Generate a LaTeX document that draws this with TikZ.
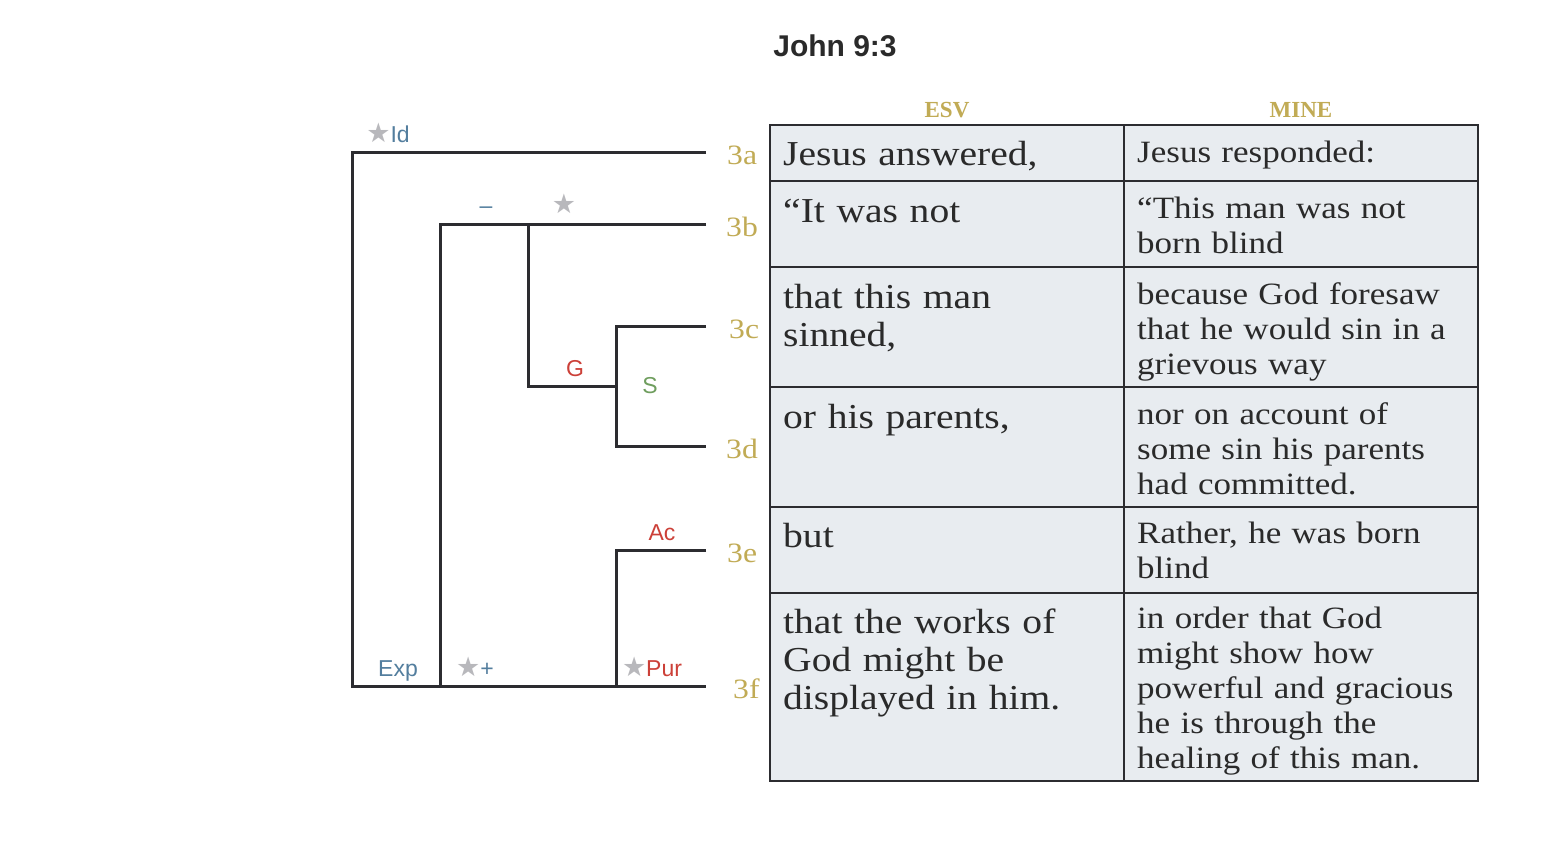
\documentclass[tikz,border=0pt]{standalone}
\usepackage{fontspec}
\usepackage{xcolor}
\usepackage{tikz}
\usetikzlibrary{positioning,calc}

\newfontfamily\versefont{Liberation Serif}[FakeStretch=1.13]
\newfontfamily\headfont{Liberation Serif}
\newfontfamily\tagfont{Liberation Sans}
\newfontfamily\starfont{DejaVu Sans}

\definecolor{lineink}{HTML}{2C2C30}
\definecolor{inktext}{HTML}{2A2A2A}
\definecolor{tagblue}{HTML}{537E9E}
\definecolor{tagred}{HTML}{CC4038}
\definecolor{taggreen}{HTML}{6F9E5E}
\definecolor{gold}{HTML}{C1AB55}
\definecolor{stargray}{HTML}{B8B8BC}
\definecolor{cellfill}{HTML}{E8ECF0}

\newcommand{\gstar}{{\starfont\fontsize{27}{27}\selectfont\textcolor{stargray}{★}}}

\tikzset{
  tree/.style={draw=lineink, line width=3pt},
  grid/.style={draw=lineink, line width=2pt},
  tag/.style={font=\tagfont\fontsize{23}{23}\selectfont, anchor=base, inner sep=0pt},
  verse/.style={font=\versefont\fontsize{28}{28}\selectfont, text=gold, inner sep=0pt, yshift=-3pt},
  hdr/.style={font=\headfont\bfseries\fontsize{23}{23}\selectfont, text=gold, anchor=base, inner sep=0pt},
  esv/.style={font=\versefont\fontsize{35}{38}\selectfont, text=inktext, anchor=base west,
    inner sep=0pt, text width=335pt, align=left},
  mine/.style={font=\versefont\fontsize{31}{35}\selectfont, text=inktext, anchor=base west,
    inner sep=0pt, text width=335pt, align=left},
}

\begin{document}
\begin{tikzpicture}[x=1pt, y=-1pt]
  \fill[white] (0,0) rectangle (1542,862);

  \node[font=\tagfont\bfseries\fontsize{30}{30}\selectfont, text=inktext, anchor=base] (title) at (835,56) {John 9:3};

  % clause ends and verse labels
  \coordinate (e3a) at (706,152);
  \coordinate (e3b) at (706,224);
  \coordinate (e3c) at (706,326);
  \coordinate (e3d) at (706,446);
  \coordinate (e3e) at (706,550);
  \coordinate (e3f) at (706,686);
  \node[verse, right=21pt of e3a] (v3a) {3a};
  \node[verse, right=20pt of e3b] (v3b) {3b};
  \node[verse, right=23pt of e3c] (v3c) {3c};
  \node[verse, right=20pt of e3d] (v3d) {3d};
  \node[verse, right=21pt of e3e] (v3e) {3e};
  \node[verse, right=27pt of e3f] (v3f) {3f};

  % arcs
  \coordinate (root) at (352,686);
  \coordinate (exp) at (440,686);
  \coordinate (neg) at (528,224);
  \coordinate (ser) at (616,386);
  \coordinate (pur) at (616,686);
  \draw[tree] (e3a) -| (root) -- (e3f);
  \draw[tree] (e3b) -| (exp);
  \draw[tree] (neg) |- (ser);
  \draw[tree] (e3c) -| (ser |- e3d) -- (e3d);
  \draw[tree] (e3e) -| (pur);

  \node[tag] (lId) at (388,142) {\gstar\textcolor{tagblue}{Id}};
  \node[tag, text=tagblue] (lMinus) at (486,213) {–};
  \node[tag] (lStar) at (564,213) {\gstar};
  \node[tag, text=tagred] (lG) at (575,376) {G};
  \node[tag, text=taggreen] (lS) at (650,393) {S};
  \node[tag, text=tagred] (lAc) at (662,540) {Ac};
  \node[tag, text=tagblue] (lExp) at (398,676) {Exp};
  \node[tag] (lPlus) at (475,676) {\gstar\textcolor{tagblue}{+}};
  \node[tag] (lPur) at (652,676) {\gstar\textcolor{tagred}{Pur}};

  % table
  \fill[cellfill] (770,125) rectangle (1478,781);
  \draw[grid] (770,125) rectangle (1478,781);
  \draw[grid] (1124,125) -- (1124,781);
  \foreach \y in {181,267,387,507,593}
    \draw[grid] (770,\y) -- (1478,\y);

  \node[hdr] (esvh) at (947,117) {ESV};
  \node[hdr] (mineh) at (1301,117) {MINE};

  \node[esv] (a1) at (783,165) {Jesus answered,};
  \node[mine] (b1) at (1137,162) {Jesus responded:};
  \node[esv] (a2) at (783,222) {“It was not};
  \node[mine] (b2) at (1137,218) {“This man was not\\born blind};
  \node[esv] (a3) at (783,308) {that this man\\sinned,};
  \node[mine] (b3) at (1137,304) {because God foresaw\\that he would sin in a\\grievous way};
  \node[esv] (a4) at (783,428) {or his parents,};
  \node[mine] (b4) at (1137,424) {nor on account of\\some sin his parents\\had committed.};
  \node[esv] (a5) at (783,547) {but};
  \node[mine] (b5) at (1137,543) {Rather, he was born\\blind};
  \node[esv] (a6) at (783,633) {that the works of\\God might be\\displayed in him.};
  \node[mine] (b6) at (1137,628) {in order that God\\might show how\\powerful and gracious\\he is through the\\healing of this man.};
\end{tikzpicture}
\end{document}
